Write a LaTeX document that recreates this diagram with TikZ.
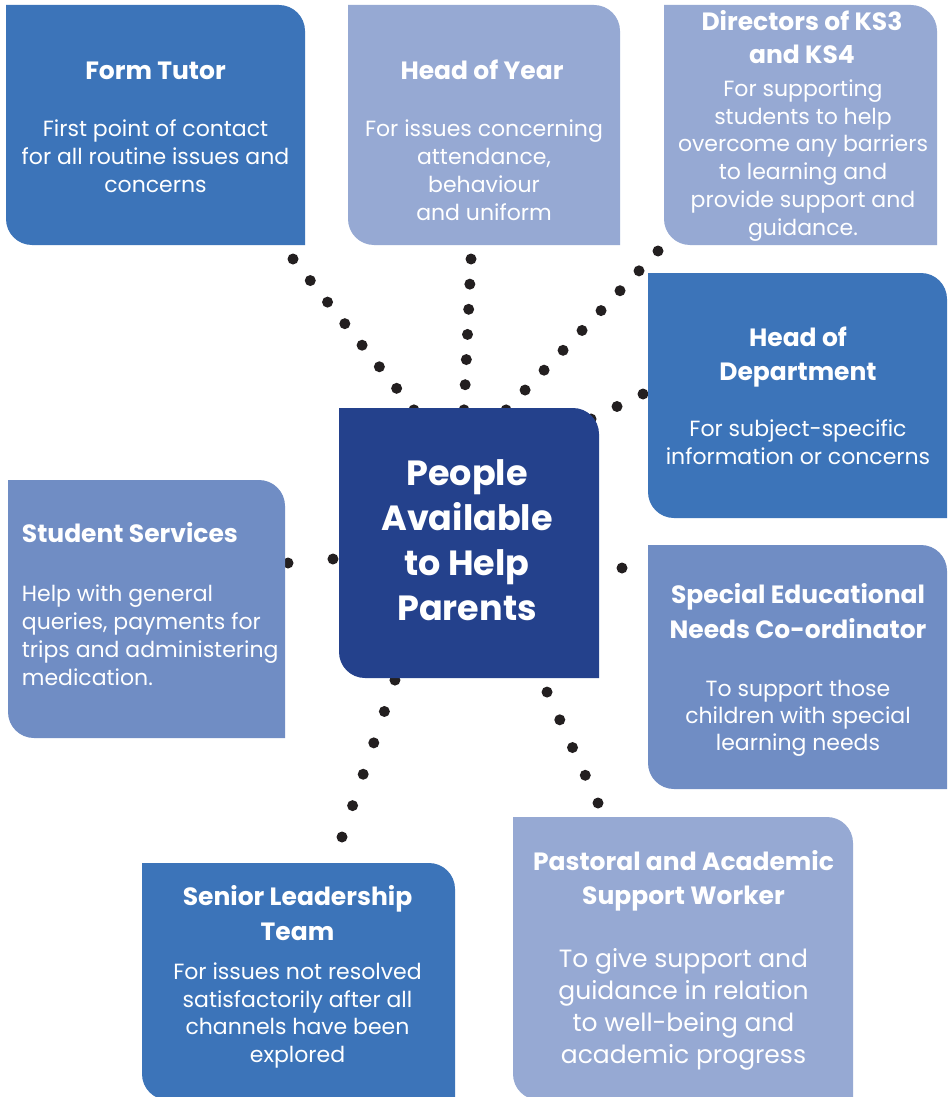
\documentclass[tikz,border=0pt]{standalone}
\usepackage{fontspec}
\setmainfont{Poppins}
\usetikzlibrary{calc}
\pgfdeclarelayer{dots}\pgfdeclarelayer{boxes}\pgfdeclarelayer{paper}
\pgfsetlayers{paper,dots,boxes,main}
\definecolor{midblue}{HTML}{3C74B9}
\definecolor{lightblue}{HTML}{96A9D3}
\definecolor{softblue}{HTML}{708DC4}
\definecolor{darkblue}{HTML}{24418C}
\definecolor{dotcol}{HTML}{231F20}
\tikzset{
  boxarea/.style={rectangle, inner sep=0pt, outer sep=0pt},
  head/.style={font=\bfseries\fontsize{25}{33.5}\selectfont, text=white, align=center, anchor=base, inner sep=0pt},
  desc/.style={font=\fontsize{22}{28}\selectfont, text=white, align=center, anchor=base, inner sep=0pt},
  title/.style={font=\bfseries\fontsize{35}{45}\selectfont, text=white, align=center, anchor=base, inner sep=0pt},
  dotline/.style={dotcol, line width=11pt, line cap=round, dash pattern={on 0pt off #1}}
}
\newcommand\cutbox[6]{%
  \node[boxarea, minimum width={(#4-#2)*1pt}, minimum height={(#5-#3)*1pt}] (#1) at ({(#2+#4)/2},{(#3+#5)/2}) {};
  \begin{pgfonlayer}{boxes}
  \fill[#6] (#1.north west) -- ([xshift=-26pt]#1.north east) arc[start angle=90,end angle=0,radius=26pt]
    -- (#1.south east) -- ([xshift=26pt]#1.south west) arc[start angle=270,end angle=180,radius=26pt] -- cycle;
  \end{pgfonlayer}}
\begin{document}
\begin{tikzpicture}[x=1pt,y=-1pt]
\begin{pgfonlayer}{paper}
\fill[white] (0,0) rectangle (948,1097);
\end{pgfonlayer}
\useasboundingbox (0,0) rectangle (948,1097);
% boxes
\cutbox{ft}{6}{5}{305}{245}{midblue}
\cutbox{hoy}{348}{5}{620}{245}{lightblue}
\cutbox{dir}{664}{5}{937}{245}{lightblue}
\cutbox{hod}{648}{273}{947}{518}{midblue}
\cutbox{ctr}{339}{408}{599}{678}{darkblue}
\cutbox{ss}{8}{480}{285}{738}{softblue}
\cutbox{sen}{648}{545}{947}{789}{softblue}
\cutbox{slt}{142}{863}{455}{1100}{midblue}
\cutbox{pas}{513}{817}{853}{1100}{lightblue}
% texts (anchor = baseline of the last line)
\node[head] (ft-h) at (155.5,80) {Form Tutor};
\node[desc] (ft-d) at (155.5,192.5) {First point of contact\\for all routine issues and\\concerns};
\node[head] (hoy-h) at (482,80) {Head of Year};
\node[desc] (hoy-d) at (484,220.5) {For issues concerning\\attendance,\\behaviour\\and uniform};
\node[head] (dir-h) at (802,64) {Directors of KS3\\and KS4};
\node[desc, font=\fontsize{22}{27.7}\selectfont] (dir-d) at (803,235) {For supporting\\students to help\\overcome any barriers\\to learning and\\provide support and\\guidance.};
\node[head] (hod-h) at (798,380) {Head of\\Department};
\node[desc] (hod-d) at (798,464) {For subject-specific\\information or concerns};
\node[title] (ctr-t) at (467,620.7) {People\\Available\\to Help\\Parents};
\node[head, align=left, anchor=base west] (ss-h) at (21.7,542.7) {Student Services};
\node[desc, align=left, anchor=base west] (ss-d) at (21.7,685) {Help with general\\queries, payments for\\trips and administering\\medication.};
\node[head, font=\bfseries\fontsize{25}{35}\selectfont] (sen-h) at (798,638.3) {Special Educational\\Needs Co-ordinator};
\node[desc, font=\fontsize{22}{27}\selectfont] (sen-d) at (798,750.7) {To support those\\children with special\\learning needs};
\node[head, font=\bfseries\fontsize{25}{35}\selectfont] (slt-h) at (297.5,940) {Senior Leadership\\Team};
\node[desc, font=\fontsize{22}{27.8}\selectfont] (slt-d) at (297.5,1062.7) {For issues not resolved\\satisfactorily after all\\channels have been\\explored};
\node[head] (pas-h) at (683.5,904) {Pastoral and Academic\\Support Worker};
\node[desc, font=\fontsize{25}{32}\selectfont] (pas-d) at (683.5,1063.3) {To give support and\\guidance in relation\\to well-being and\\academic progress};
% connector ends
\coordinate (ft-a) at (293,259);   \coordinate (ft-b) at (414,410);
\coordinate (hoy-a) at (471,259);  \coordinate (hoy-b) at (464,410);
\coordinate (dir-a) at (658,251);  \coordinate (dir-b) at (506,410);
\coordinate (hod-a) at (643,394);  \coordinate (hod-b) at (591,419);
\coordinate (ss-a) at (288,563);   \coordinate (ss-b) at (333,559);
\coordinate (sen-a) at (622,568);  \coordinate (sen-b) at (592,569);
\coordinate (slt-a) at (342,837);  \coordinate (slt-b) at (395,680);
\coordinate (pas-a) at (598,803);  \coordinate (pas-b) at (547,692);
\begin{pgfonlayer}{dots}
\draw[dotline=27.62pt] (ft-a) -- (ft-b);
\draw[dotline=25.17pt] (hoy-a) -- (hoy-b);
\draw[dotline=27.48pt] (dir-a) -- (dir-b);
\draw[dotline=28.83pt] (hod-a) -- (hod-b);
\draw[dotline=45.15pt] (ss-a) -- (ss-b);
\draw[dotline=29.98pt] (sen-a) -- (sen-b);
\draw[dotline=33.12pt] (slt-a) -- (slt-b);
\draw[dotline=30.52pt] (pas-a) -- (pas-b);
\end{pgfonlayer}
\end{tikzpicture}
\end{document}
